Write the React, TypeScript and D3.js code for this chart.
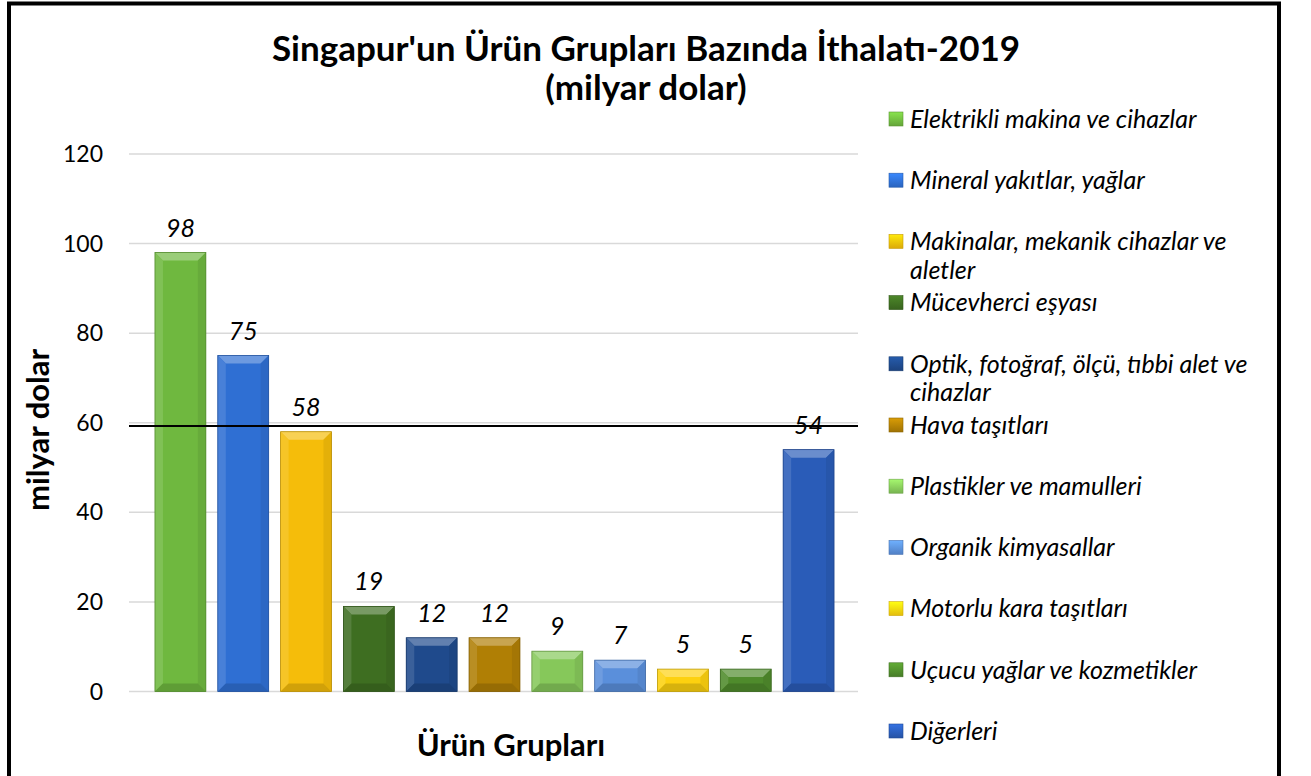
import React, { useEffect, useRef } from 'react';
import * as d3 from 'd3';

// chart data
const categories = [
  'Elektrikli makina ve cihazlar',
  'Mineral yakıtlar, yağlar',
  'Makinalar, mekanik cihazlar ve aletler',
  'Mücevherci eşyası',
  'Optik, fotoğraf, ölçü, tıbbi alet ve cihazlar',
  'Hava taşıtları',
  'Plastikler ve mamulleri',
  'Organik kimyasallar',
  'Motorlu kara taşıtları',
  'Uçucu yağlar ve kozmetikler',
  'Diğerleri',
];
const values = [98, 75, 58, 19, 12, 12, 9, 7, 5, 5, 54];
const barColors = [
  '#6fb83f', '#2f6fd3', '#f5bd0a', '#3e6e21', '#1f4a8c', '#b07f05',
  '#86c85a', '#5a8fdb', '#fdd10f', '#4f8b2c', '#2a5cb8',
];
// legend lines (wrapped as in the original)
const legendLines = [
  ['Elektrikli makina ve cihazlar'],
  ['Mineral yakıtlar, yağlar'],
  ['Makinalar, mekanik cihazlar ve', 'aletler'],
  ['Mücevherci eşyası'],
  ['Optik, fotoğraf, ölçü, tıbbi alet ve', 'cihazlar'],
  ['Hava taşıtları'],
  ['Plastikler ve mamulleri'],
  ['Organik kimyasallar'],
  ['Motorlu kara taşıtları'],
  ['Uçucu yağlar ve kozmetikler'],
  ['Diğerleri'],
];
const yTicks = [0, 20, 40, 60, 80, 100, 120];
const refLineValue = 59.3;

const FONT = 'Lato, "Open Sans", sans-serif';

const App = () => {
  const svgRef = useRef<SVGSVGElement>(null);

  useEffect(() => {
    const W = 1311;
    const H = 776;
    const svg = d3.select(svgRef.current).attr('width', W).attr('height', H);
    svg.selectAll('*').remove();

    svg.append('rect').attr('width', W).attr('height', H).attr('fill', '#fff');

    // outer frame
    svg
      .append('rect')
      .attr('x', 9)
      .attr('y', 3.5)
      .attr('width', 1270)
      .attr('height', H + 20)
      .attr('fill', 'none')
      .attr('stroke', '#000')
      .attr('stroke-width', 4);

    const yScale = d3.scaleLinear().domain([0, 120]).range([691.5, 154]);
    const xScale = d3
      .scaleBand()
      .domain(categories)
      .range([149, 840])
      .paddingInner(0.19)
      .paddingOuter(0.095);

    const gridX0 = 129;
    const gridX1 = 858;

    // gridlines
    svg
      .append('g')
      .selectAll('line')
      .data(yTicks)
      .enter()
      .append('line')
      .attr('x1', gridX0)
      .attr('x2', gridX1)
      .attr('y1', d => yScale(d))
      .attr('y2', d => yScale(d))
      .attr('stroke', '#d9d9d9')
      .attr('stroke-width', 1.5);

    // y tick labels
    svg
      .append('g')
      .selectAll('text')
      .data(yTicks)
      .enter()
      .append('text')
      .attr('x', 103)
      .attr('y', d => yScale(d))
      .attr('dy', '0.35em')
      .attr('text-anchor', 'end')
      .style('font-family', FONT)
      .style('font-size', '23px')
      .attr('fill', '#000')
      .text(d => d);

    // bars with bevel
    const bars = svg.append('g');
    categories.forEach((c, i) => {
      const x0 = xScale(c) as number;
      const w = xScale.bandwidth();
      const y0 = yScale(values[i]);
      const y1 = yScale(0);
      const h = y1 - y0;
      const b = Math.min(8, h / 2, w / 2);
      const col = d3.color(barColors[i]) as d3.RGBColor;
      const light = d3.interpolateRgb(barColors[i], '#ffffff')(0.3);
      const lighter = d3.interpolateRgb(barColors[i], '#ffffff')(0.12);
      const dark = col.darker(0.45).toString();
      const darkSide = col.darker(0.2).toString();
      const g = bars.append('g');
      g.append('rect')
        .attr('x', x0)
        .attr('y', y0)
        .attr('width', w)
        .attr('height', h)
        .attr('fill', barColors[i]);
      // top bevel
      g.append('path')
        .attr('d', `M${x0},${y0}L${x0 + w},${y0}L${x0 + w - b},${y0 + b}L${x0 + b},${y0 + b}Z`)
        .attr('fill', light);
      // left bevel
      g.append('path')
        .attr('d', `M${x0},${y0}L${x0 + b},${y0 + b}L${x0 + b},${y1 - b}L${x0},${y1}Z`)
        .attr('fill', lighter);
      // right bevel
      g.append('path')
        .attr('d', `M${x0 + w},${y0}L${x0 + w},${y1}L${x0 + w - b},${y1 - b}L${x0 + w - b},${y0 + b}Z`)
        .attr('fill', darkSide);
      // bottom bevel
      g.append('path')
        .attr('d', `M${x0},${y1}L${x0 + b},${y1 - b}L${x0 + w - b},${y1 - b}L${x0 + w},${y1}Z`)
        .attr('fill', dark);
      g.append('rect')
        .attr('x', x0)
        .attr('y', y0)
        .attr('width', w)
        .attr('height', h)
        .attr('fill', 'none')
        .attr('stroke', col.darker(0.8).toString())
        .attr('stroke-width', 0.8);
    });

    // reference line
    svg
      .append('line')
      .attr('x1', gridX0)
      .attr('x2', gridX1)
      .attr('y1', yScale(refLineValue))
      .attr('y2', yScale(refLineValue))
      .attr('stroke', '#000')
      .attr('stroke-width', 2);

    // data labels
    svg
      .append('g')
      .selectAll('text')
      .data(values)
      .enter()
      .append('text')
      .attr('x', (d, i) => (xScale(categories[i]) as number) + xScale.bandwidth() / 2)
      .attr('y', d => yScale(d) - 16)
      .attr('text-anchor', 'middle')
      .style('font-family', FONT)
      .style('font-size', '25px')
      .style('font-style', 'italic')
      .attr('fill', '#000')
      .text(d => d);

    // title
    const title = svg
      .append('text')
      .style('font-family', FONT)
      .style('font-size', '35px')
      .style('font-weight', 'bold')
      .attr('text-anchor', 'middle')
      .attr('fill', '#000');
    title.append('tspan').attr('x', 646).attr('y', 61).text("Singapur'un Ürün Grupları Bazında İthalatı-2019");
    title.append('tspan').attr('x', 646).attr('y', 100).text('(milyar dolar)');

    // axis titles
    svg
      .append('text')
      .attr('transform', 'translate(49,430) rotate(-90)')
      .attr('text-anchor', 'middle')
      .style('font-family', FONT)
      .style('font-size', '31px')
      .style('font-weight', 'bold')
      .text('milyar dolar');

    svg
      .append('text')
      .attr('x', 511)
      .attr('y', 756)
      .attr('text-anchor', 'middle')
      .style('font-family', FONT)
      .style('font-size', '31px')
      .style('font-weight', 'bold')
      .text('Ürün Grupları');

    // legend
    const legend = svg.append('g');
    const defs = svg.append('defs');
    legendLines.forEach((lines, i) => {
      const cy = 119 + i * 61.2;
      const col = d3.color(barColors[i]) as d3.RGBColor;
      const grad = defs
        .append('linearGradient')
        .attr('id', `lg${i}`)
        .attr('x1', 0)
        .attr('y1', 0)
        .attr('x2', 0)
        .attr('y2', 1);
      grad.append('stop').attr('offset', '0%').attr('stop-color', col.brighter(0.6).toString());
      grad.append('stop').attr('offset', '100%').attr('stop-color', col.darker(0.3).toString());
      legend
        .append('rect')
        .attr('x', 889)
        .attr('y', cy - 7)
        .attr('width', 14)
        .attr('height', 14)
        .attr('fill', `url(#lg${i})`)
        .attr('stroke', col.darker(0.6).toString())
        .attr('stroke-width', 0.6);
      lines.forEach((ln, j) => {
        legend
          .append('text')
          .attr('x', 910)
          .attr('y', cy + j * 28.5)
          .attr('dy', '0.35em')
          .style('font-family', FONT)
          .style('font-size', '25px')
          .style('font-style', 'italic')
          .attr('fill', '#000')
          .text(ln);
      });
    });
  }, []);

  return (
    <div style={{ position: 'absolute', left: 0, top: 0 }}>
      <svg ref={svgRef} style={{ display: 'block' }}></svg>
    </div>
  );
};

export default App;
